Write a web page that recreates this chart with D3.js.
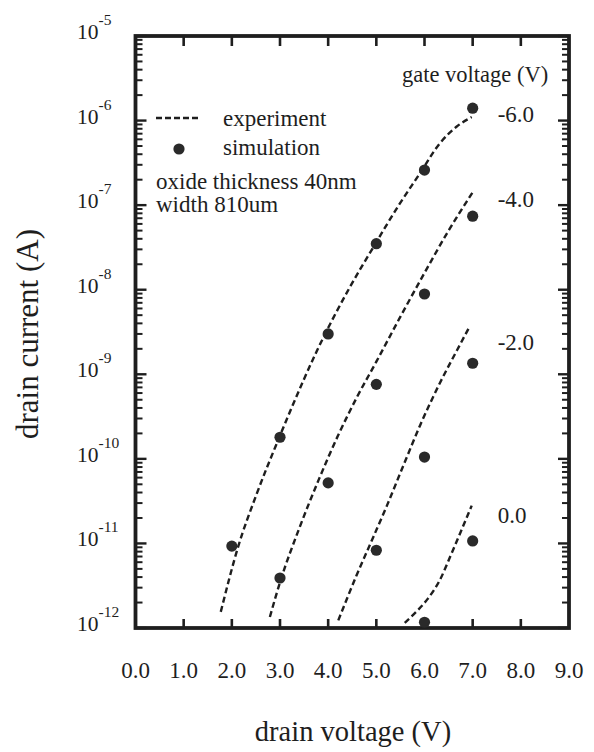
<!DOCTYPE html>
<html><head><meta charset="utf-8">
<script src="https://cdn.jsdelivr.net/npm/d3@7/dist/d3.min.js"></script>
<style>
body{margin:0;background:#fff}
svg{display:block}
text{font-family:"Liberation Serif","Times New Roman",serif;fill:#1e1e1e}
</style>
</head><body>
<svg id="c" width="594" height="752"></svg>
<script>
// ---- data ----
const gateLabels = ["-6.0", "-4.0", "-2.0", "0.0"];
const simVoltage = [[2, 3, 4, 5, 6, 7], [3, 4, 5, 6, 7], [5, 6, 7], [6, 7]];
const simCurrent = [
  [9.3e-12, 1.8e-10, 3.0e-9, 3.5e-8, 2.6e-7, 1.4e-6],
  [3.9e-12, 5.2e-11, 7.6e-10, 8.9e-9, 7.4e-8],
  [8.3e-12, 1.05e-10, 1.35e-9],
  [1.17e-12, 1.07e-11]
];
const expVoltage = [
  [1.77, 2.13, 2.52, 2.96, 3.24, 3.76, 4.45, 4.94, 5.49, 5.90, 6.32, 6.67, 6.98],
  [2.79, 3.00, 3.40, 3.80, 4.20, 4.60, 5.00, 5.50, 6.00, 6.50, 7.01],
  [4.21, 4.59, 4.94, 5.22, 5.56, 5.91, 6.32, 6.67, 6.94],
  [5.59, 5.85, 6.05, 6.32, 6.53, 6.74, 6.98]
];
const expCurrent = [
  [1.55e-12, 9.1e-12, 3.9e-11, 1.66e-10, 4.0e-10, 1.86e-9, 1.07e-8, 3.2e-8, 1.05e-7, 2.35e-7, 5.4e-7, 8.5e-7, 1.1e-6],
  [1.35e-12, 3.47e-12, 1.51e-11, 5.6e-11, 1.86e-10, 5.4e-10, 1.41e-9, 4.8e-9, 1.58e-8, 5.0e-8, 1.45e-7],
  [1.23e-12, 4.2e-12, 1.2e-11, 2.8e-11, 8.3e-11, 2.5e-10, 7.9e-10, 1.9e-9, 3.7e-9],
  [1.15e-12, 1.6e-12, 2.15e-12, 3.7e-12, 6.9e-12, 1.32e-11, 2.8e-11]
];
const gateLabelCurrent = [1.2e-6, 1.17e-7, 2.4e-9, 2.2e-11];
const gateLabelVoltage = 7.52;
const xTicks = [0, 1, 2, 3, 4, 5, 6, 7, 8, 9];
const xTickLabels = ["0.0", "1.0", "2.0", "3.0", "4.0", "5.0", "6.0", "7.0", "8.0", "9.0"];
const yExponents = [-12, -11, -10, -9, -8, -7, -6, -5];
const legendItems = ["experiment", "simulation"];
const noteLines = ["oxide thickness 40nm", "width 810um"];
const gateTitle = "gate voltage (V)";
const xTitle = "drain voltage (V)";
const yTitle = "drain current (A)";

// ---- layout ----
const L = 135.5, R = 569, T = 36, B = 628;
const svg = d3.select("#c");
const x = d3.scaleLinear().domain([0, 9]).range([L, R]);
const y = d3.scaleLog().domain([1e-12, 1e-5]).range([B, T]);
const ink = "#1e1e1e";

// tick values from the scales
const majors = yExponents.map(e => Math.pow(10, e));
const minors = y.ticks().filter(v => {
  const m = v / Math.pow(10, Math.floor(Math.log10(v) + 1e-9));
  return Math.abs(m - 1) > 1e-6;
});
const innerX = xTicks.slice(1, -1);

const tk = svg.append("g").attr("stroke", ink);
// left & right log ticks (inward)
[[majors, 11, 2.4], [minors, 7, 2]].forEach(([vals, len, w]) => {
  tk.append("g").attr("stroke-width", w).selectAll("line").data(vals).join("line")
    .attr("x1", L).attr("x2", L + len)
    .attr("y1", d => y(d)).attr("y2", d => y(d));
  tk.append("g").attr("stroke-width", w).selectAll("line").data(vals).join("line")
    .attr("x1", R).attr("x2", R - len)
    .attr("y1", d => y(d)).attr("y2", d => y(d));
});
// top & bottom ticks (inward)
tk.append("g").attr("stroke-width", 2.6).selectAll("line").data(innerX).join("line")
  .attr("x1", d => x(d)).attr("x2", d => x(d)).attr("y1", T).attr("y2", T + 10);
tk.append("g").attr("stroke-width", 2.6).selectAll("line").data(innerX).join("line")
  .attr("x1", d => x(d)).attr("x2", d => x(d)).attr("y1", B).attr("y2", B - 9);

// frame
svg.append("rect").attr("x", L).attr("y", T).attr("width", R - L).attr("height", B - T)
  .attr("fill", "none").attr("stroke", ink).attr("stroke-width", 3.8);

// x tick labels
svg.append("g").selectAll("text").data(xTicks).join("text")
  .attr("x", d => x(d)).attr("y", 678).attr("text-anchor", "middle")
  .attr("font-size", 23).text((d, i) => xTickLabels[i]);

// y tick labels
const yl = svg.append("g").selectAll("text").data(yExponents).join("text")
  .attr("x", 77).attr("y", d => y(Math.pow(10, d)) + 3).attr("font-size", 21.5);
yl.append("tspan").text("10");
yl.append("tspan").attr("font-size", 15.5).attr("dy", -14).text(d => String(d));

// titles
svg.append("text").attr("x", 353).attr("y", 741).attr("text-anchor", "middle")
  .attr("font-size", 28.5).text(xTitle);
svg.append("text").attr("transform", "translate(38,334) rotate(-90)")
  .attr("text-anchor", "middle").attr("font-size", 31).text(yTitle);

// experiment curves
const line = d3.line().curve(d3.curveMonotoneX)
  .x(d => x(d[0])).y(d => y(d[1]));
expVoltage.forEach((vs, i) => {
  svg.append("path").datum(vs.map((v, j) => [v, expCurrent[i][j]]))
    .attr("d", line).attr("fill", "none").attr("stroke", ink)
    .attr("stroke-width", 2.4).attr("stroke-dasharray", "6,3.5");
});

// simulation dots
simVoltage.forEach((vs, i) => {
  svg.append("g").selectAll("circle").data(vs.map((v, j) => [v, simCurrent[i][j]])).join("circle")
    .attr("cx", d => x(d[0])).attr("cy", d => y(d[1])).attr("r", 5.6).attr("fill", "#2a2a2a");
});

// gate labels
svg.append("text").attr("x", 402).attr("y", 82).attr("font-size", 22.5).text(gateTitle);
svg.append("g").selectAll("text").data(gateLabels).join("text")
  .attr("x", x(gateLabelVoltage)).attr("y", (d, i) => y(gateLabelCurrent[i]))
  .attr("dy", "0.35em").attr("font-size", 23).text(d => d);

// legend
svg.append("line").attr("x1", 156).attr("x2", 200).attr("y1", 118).attr("y2", 118)
  .attr("stroke", ink).attr("stroke-width", 2.4).attr("stroke-dasharray", "6,3");
svg.append("circle").attr("cx", 179).attr("cy", 149).attr("r", 5.6).attr("fill", "#2a2a2a");
svg.append("text").attr("x", 223).attr("y", 126).attr("font-size", 23).text(legendItems[0]);
svg.append("text").attr("x", 223).attr("y", 155).attr("font-size", 23).text(legendItems[1]);
svg.append("text").attr("x", 156).attr("y", 189).attr("font-size", 23).text(noteLines[0]);
svg.append("text").attr("x", 156).attr("y", 212).attr("font-size", 23).text(noteLines[1]);
</script>
</body></html>
